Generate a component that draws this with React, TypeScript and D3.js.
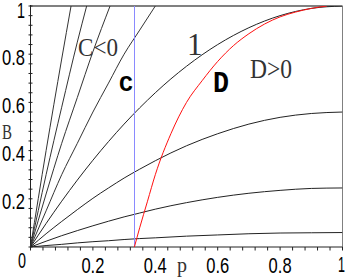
import React from 'react'
import * as d3 from 'd3'

// values
const pGrid = [0, 0.05, 0.1, 0.15, 0.2, 0.25, 0.3, 0.35, 0.4, 0.5, 0.6, 0.7, 0.8, 0.9, 1]
const curveOne = [0, 0.0975, 0.19, 0.2775, 0.36, 0.4375, 0.51, 0.5775, 0.64, 0.75, 0.84, 0.91, 0.96, 0.99, 1]
const curveMid = [0, 0.055, 0.106, 0.155, 0.202, 0.245, 0.286, 0.323, 0.358, 0.42, 0.47, 0.51, 0.538, 0.554, 0.56]
const curveLow = [0, 0.024, 0.047, 0.068, 0.088, 0.107, 0.125, 0.141, 0.157, 0.184, 0.206, 0.223, 0.235, 0.243, 0.245]
const curveFlat = [0, 0.006, 0.011, 0.017, 0.022, 0.026, 0.031, 0.035, 0.038, 0.045, 0.05, 0.055, 0.058, 0.059, 0.06]

// the steep ones in the C<0 corner
const steepP = [
  [0, 0.05, 0.1, 0.13],
  [0, 0.05, 0.1, 0.15, 0.18],
  [0, 0.05, 0.1, 0.15, 0.2, 0.255],
  [0, 0.05, 0.1, 0.15, 0.2, 0.25, 0.3, 0.35, 0.4],
]
const steepB = [
  [0, 0.4, 0.78, 1.0],
  [0, 0.3, 0.58, 0.85, 1.0],
  [0, 0.22, 0.43, 0.62, 0.81, 1.0],
  [0, 0.15, 0.3, 0.43, 0.56, 0.68, 0.8, 0.9, 1.0],
]

// red boundary D
const redP = [0.333, 0.35, 0.375, 0.4, 0.45, 0.5, 0.55, 0.6, 0.65, 0.7, 0.75, 0.8, 0.85, 0.9, 0.95]
const redB = [0, 0.08, 0.19, 0.3, 0.47, 0.6, 0.69, 0.77, 0.835, 0.885, 0.925, 0.955, 0.975, 0.99, 1.0]

const vLine = 1 / 3
const majorTicks = [0.2, 0.4, 0.6, 0.8]
const tickLabels = ['0.2', '0.4', '0.6', '0.8']
const minorStep = 0.04

function App() {
  const W = 346, H = 277
  const x = d3.scaleLinear().domain([0, 1]).range([30.5, 342.5])
  const y = d3.scaleLinear().domain([0, 1]).range([247, 6])

  const line = d3.line<[number, number]>()
    .x(d => x(d[0]))
    .y(d => y(d[1]))
    .curve(d3.curveMonotoneX)

  const zip = (ps: number[], bs: number[]) => ps.map((p, i) => [p, bs[i]] as [number, number])
  const blackCurves = [curveOne, curveMid, curveLow, curveFlat].map(c => zip(pGrid, c))
  const steep = steepP.map((ps, i) => zip(ps, steepB[i]))
  const minor = d3.range(0, 1.0001, minorStep)

  const numFont = '"Liberation Sans", Arial, sans-serif'
  const serif = '"Liberation Serif", "Times New Roman", serif'
  const mono = '"Liberation Mono", monospace'

  return (
    <svg width={W} height={H} style={{ position: 'absolute', left: 0, top: 0, background: 'white' }}>
      <defs>
        <clipPath id="plot">
          <rect x={x(0)} y={y(1)} width={x(1) - x(0)} height={y(0) - y(1)} />
        </clipPath>
      </defs>

      {/* frame */}
      <line x1={x(0)} x2={x(1)} y1={y(1)} y2={y(1)} stroke="#808080" strokeWidth={2} />
      <line x1={x(1)} x2={x(1)} y1={y(1)} y2={y(0)} stroke="#808080" strokeWidth={1} />
      <line x1={x(0)} x2={x(0)} y1={y(1) - 1} y2={y(0)} stroke="#222" strokeWidth={1} />
      <line x1={x(0)} x2={x(1)} y1={y(0)} y2={y(0)} stroke="#222" strokeWidth={1} />

      {minor.map((v, i) => (
        <g key={i}>
          <line x1={x(v)} x2={x(v)} y1={y(0)} y2={y(0) + 3.5} stroke="#222" strokeWidth={1} />
          <line x1={x(0) - 2} x2={x(0) + 2} y1={y(v)} y2={y(v)} stroke="#222" strokeWidth={1} />
        </g>
      ))}

      {/* tick labels */}
      <g fontFamily={numFont} fontSize={22} fill="#000">
        {majorTicks.map((v, i) => (
          <text key={'x' + i} x={x(v) - 11.5} y={273} textLength={23} lengthAdjust="spacingAndGlyphs">{tickLabels[i]}</text>
        ))}
        <text x={338} y={272} textLength={7} lengthAdjust="spacingAndGlyphs">1</text>
        <text x={18} y={268} textLength={8} lengthAdjust="spacingAndGlyphs">0</text>
        {majorTicks.map((v, i) => (
          <text key={'y' + i} x={2} y={y(v) + 10.5} textLength={23} lengthAdjust="spacingAndGlyphs">{tickLabels[i]}</text>
        ))}
        <text x={17} y={18} textLength={8} lengthAdjust="spacingAndGlyphs">1</text>
      </g>
      <text x={177} y={272} fontFamily={serif} fontSize={20} fill="#333">p</text>
      <text x={2} y={139} fontFamily={serif} fontSize={20} fill="#333" textLength={10} lengthAdjust="spacingAndGlyphs">B</text>

      <g clipPath="url(#plot)" fill="none">
        {steep.map((d, i) => (
          <path key={'s' + i} d={line(d) || ''} stroke="#333" strokeWidth={1} />
        ))}
        {blackCurves.map((d, i) => (
          <path key={'c' + i} d={line(d) || ''} stroke="#222" strokeWidth={1} />
        ))}
        <line x1={x(vLine)} x2={x(vLine)} y1={y(0)} y2={y(1)} stroke="#8a8aff" strokeWidth={1} />
        <path d={line(zip(redP, redB)) || ''} stroke="#ff1010" strokeWidth={1} />
      </g>

      {/* region labels */}
      <text x={78} y={56} fontFamily={serif} fontSize={25} fill="#333" textLength={40} lengthAdjust="spacingAndGlyphs">C&lt;0</text>
      <text x={187} y={55} fontFamily={serif} fontSize={31} fill="#333">1</text>
      <text x={250} y={78} fontFamily={serif} fontSize={27} fill="#333" textLength={42} lengthAdjust="spacingAndGlyphs">D&gt;0</text>
      <text x={119} y={91} fontFamily={mono} fontWeight="bold" fontSize={22} fill="#000" textLength={14} lengthAdjust="spacingAndGlyphs">C</text>
      <text x={213} y={92} fontFamily={mono} fontWeight="bold" fontSize={29} fill="#000" textLength={16} lengthAdjust="spacingAndGlyphs">D</text>
    </svg>
  )
}

export default App
